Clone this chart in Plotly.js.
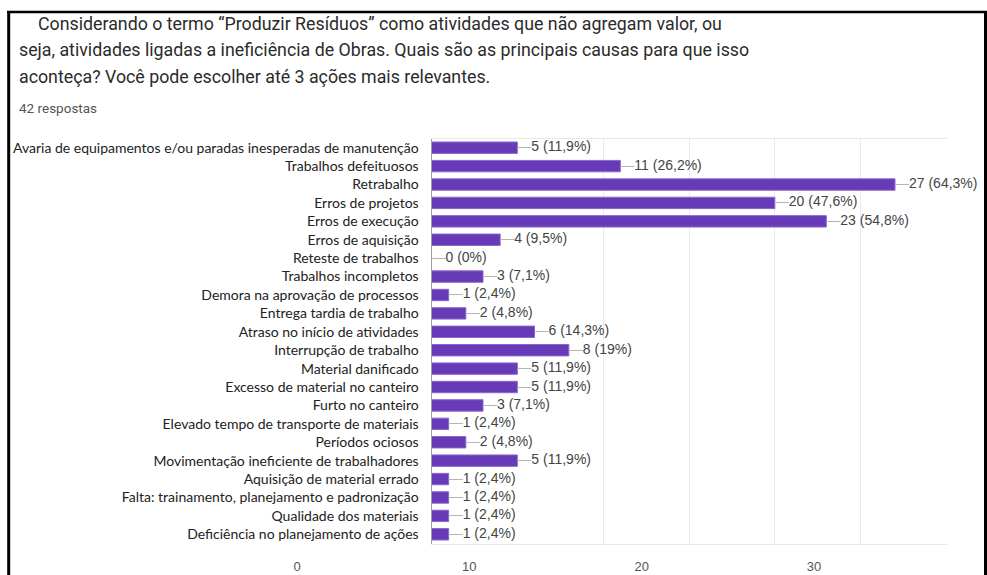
<!DOCTYPE html>
<html>
<head>
<meta charset="utf-8">
<script src="https://cdn.plot.ly/plotly-3.0.1.min.js"></script>
<style>html,body{margin:0;padding:0;background:#fff;}#chart{width:987px;height:575px;}</style>
</head>
<body>
<div id="chart"></div>
<script>
const categories = [
  "Avaria de equipamentos e/ou paradas inesperadas de manutenção",
  "Trabalhos defeituosos",
  "Retrabalho",
  "Erros de projetos",
  "Erros de execução",
  "Erros de aquisição",
  "Reteste de trabalhos",
  "Trabalhos incompletos",
  "Demora na aprovação de processos",
  "Entrega tardia de trabalho",
  "Atraso no início de atividades",
  "Interrupção de trabalho",
  "Material danificado",
  "Excesso de material no canteiro",
  "Furto no canteiro",
  "Elevado tempo de transporte de materiais",
  "Períodos ociosos",
  "Movimentação ineficiente de trabalhadores",
  "Aquisição de material errado",
  "Falta: trainamento, planejamento e padronização",
  "Qualidade dos materiais",
  "Deficiência no planejamento de ações"
];
const counts = [5, 11, 27, 20, 23, 4, 0, 3, 1, 2, 6, 8, 5, 5, 3, 1, 2, 5, 1, 1, 1, 1];
const percents = ["11,9%", "26,2%", "64,3%", "47,6%", "54,8%", "9,5%", "0%", "7,1%", "2,4%", "4,8%",
  "14,3%", "19%", "11,9%", "11,9%", "7,1%", "2,4%", "4,8%", "11,9%", "2,4%", "2,4%", "2,4%", "2,4%"];
const bottomTicks = [0, 10, 20, 30];
const titleLines = [
  "Considerando o termo “Produzir Resíduos” como atividades que não agregam valor, ou",
  "seja, atividades ligadas a ineficiência de Obras. Quais são as principais causas para que isso",
  "aconteça? Você pode escolher até 3 ações mais relevantes."
];
const subtitle = "42 respostas";

const W = 987, H = 575;
const px = v => v / W;
const py = v => 1 - v / H;

const labels = counts.map((c, i) => '<span style="color:#b5b5b5">—</span>' + c + ' (' + percents[i] + ')');

const traces = [
  {
    type: 'bar', orientation: 'h', x: counts, y: categories,
    marker: {color: '#673ab7', line: {color: '#8a68c9', width: 1}},
    hoverinfo: 'skip'
  },
  {
    type: 'scatter', mode: 'text', x: counts, y: categories, text: labels,
    textposition: 'middle right', cliponaxis: false,
    textfont: {family: 'Liberation Sans, Arial, sans-serif', size: 14, color: '#444'},
    hoverinfo: 'skip'
  },
  {
    type: 'scatter', mode: 'markers', x: [bottomTicks[0]], y: [0],
    xaxis: 'x2', yaxis: 'y2', marker: {opacity: 0}, hoverinfo: 'skip'
  }
];

const annotations = [
  {text: titleLines[0], x: px(36), y: py(23), size: 17.8, color: '#2b2b2b'},
  {text: titleLines[1], x: px(17), y: py(50), size: 17.8, color: '#2b2b2b'},
  {text: titleLines[2], x: px(17), y: py(77), size: 17.8, color: '#2b2b2b'},
  {text: subtitle, x: px(17), y: py(108), size: 13.5, color: '#555'}
].map(a => ({
  text: a.text, x: a.x, y: a.y, xref: 'paper', yref: 'paper', xanchor: 'left', yanchor: 'middle',
  showarrow: false, font: {family: 'Roboto, sans-serif', size: a.size, color: a.color}
}));

const layout = {
  width: W, height: H,
  margin: {l: 0, r: 0, t: 0, b: 0},
  paper_bgcolor: '#fff', plot_bgcolor: 'rgba(0,0,0,0)',
  showlegend: false,
  bargap: 0.38,
  xaxis: {
    domain: [px(431.5), px(946.5)], range: [0, 30],
    tickvals: [10, 15, 20, 25, 30], showticklabels: false,
    showgrid: true, gridcolor: '#ebebeb', zeroline: false,
    showline: true, mirror: true, linecolor: '#e8e8e8', fixedrange: true
  },
  yaxis: {
    domain: [py(543.5), py(138.5)], type: 'category', range: [categories.length - 0.5, -0.5],
    showline: true, linecolor: '#9e9e9e', linewidth: 1, showgrid: false, zeroline: false,
    ticks: '', ticklabelstandoff: 9,
    tickfont: {family: 'Lato, sans-serif', size: 14, color: '#222'}, fixedrange: true
  },
  xaxis2: {
    domain: [px(297), px(814)], range: [0, 30], anchor: 'y2',
    tickvals: bottomTicks, showgrid: false, zeroline: false, showline: false, ticks: '',
    tickfont: {family: 'Liberation Sans, Arial, sans-serif', size: 13, color: '#555'}, fixedrange: true
  },
  yaxis2: {
    domain: [py(557), py(552)], anchor: 'x2', range: [-1, 1], visible: false, fixedrange: true
  },
  annotations: annotations,
  shapes: [
    {type: 'line', xref: 'paper', yref: 'paper', x0: px(8.7), x1: px(8.7), y0: py(11), y1: py(580), line: {color: '#000', width: 3}},
    {type: 'line', xref: 'paper', yref: 'paper', x0: px(7), x1: px(987), y0: py(12), y1: py(12), line: {color: '#000', width: 2.5}},
    {type: 'line', xref: 'paper', yref: 'paper', x0: px(985.5), x1: px(985.5), y0: py(11), y1: py(580), line: {color: '#000', width: 3}}
  ]
};

Plotly.newPlot('chart', traces, layout, {staticPlot: true, displayModeBar: false});
</script>
</body>
</html>
